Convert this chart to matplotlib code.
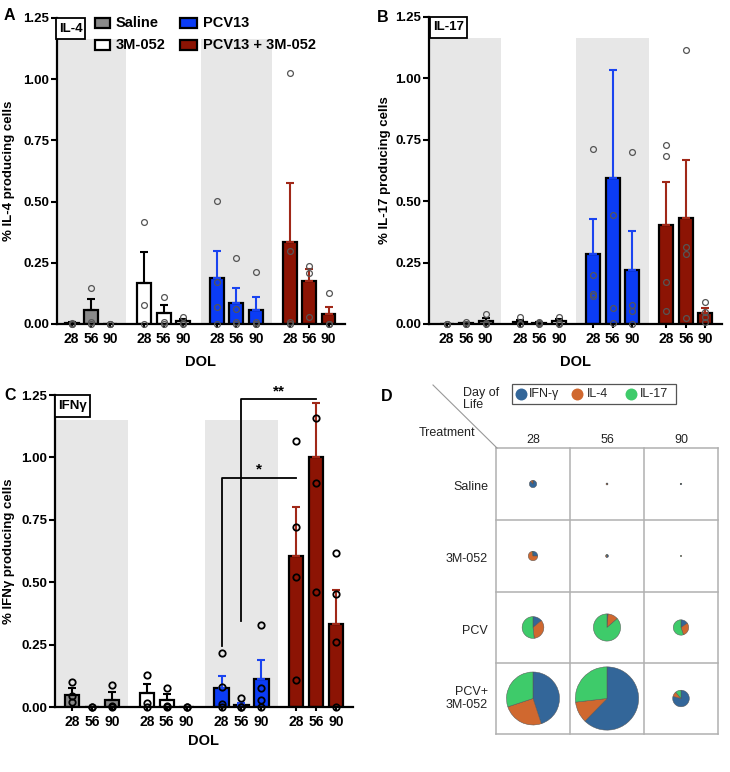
import matplotlib
matplotlib.use('Agg')
import matplotlib.pyplot as plt
from matplotlib.patches import Rectangle

plt.rcParams['font.family'] = ['Liberation Sans', 'DejaVu Sans']
plt.rcParams['font.weight'] = 'bold'
plt.rcParams['axes.labelweight'] = 'bold'

W, H = 730, 772

# ---------------- data ----------------
days = ['28', '56', '90']
groups = ['Saline', '3M-052', 'PCV13', 'PCV13 + 3M-052']
group_colors = ['#8a8a8a', '#ffffff', '#0b3cf5', '#8c1404']
err_colors = ['#000000', '#000000', '#1a44f0', '#a02818']

il4_mean = [[0.005, 0.057, 0.0], [0.168, 0.044, 0.011], [0.189, 0.085, 0.057], [0.336, 0.175, 0.042]]
il4_sem = [[0.003, 0.047, 0.0], [0.128, 0.032, 0.008], [0.111, 0.064, 0.052], [0.240, 0.049, 0.029]]
il4_pts = [[[0, 0, 0.005], [0.149, 0.01, 0], [0, 0, 0]],
           [[0.418, 0.078, 0], [0.109, 0.01, 0], [0.03, 0.005, 0]],
           [[0.503, 0.17, 0.068, 0], [0.268, 0.06, 0.01, 0], [0.214, 0.01, 0, 0]],
           [[1.025, 0.30, 0.01, 0], [0.238, 0.21, 0.03], [0.128, 0, 0]]]

il17_mean = [[0.0, 0.003, 0.013], [0.01, 0.005, 0.012], [0.286, 0.596, 0.22], [0.405, 0.431, 0.046]]
il17_sem = [[0.0, 0.003, 0.012], [0.007, 0.003, 0.009], [0.14, 0.437, 0.158], [0.175, 0.238, 0.02]]
il17_pts = [[[0, 0, 0], [0.01, 0, 0], [0.04, 0.005, 0]],
            [[0.03, 0, 0], [0.01, 0.005, 0], [0.03, 0.005, 0]],
            [[0.714, 0.201, 0.124, 0.114], [0.442, 0.064, 0.003], [0.702, 0.077, 0.053, 0.0]],
            [[0.727, 0.686, 0.172, 0.053], [1.115, 0.313, 0.284, 0.023], [0.09, 0.05, 0.027, 0.01]]]

ifn_mean = [[0.05, 0.0, 0.03], [0.058, 0.027, 0.0], [0.077, 0.009, 0.111], [0.605, 1.0, 0.333]]
ifn_sem = [[0.025, 0.0, 0.029], [0.035, 0.024, 0.0], [0.048, 0.008, 0.076], [0.198, 0.216, 0.134]]
ifn_pts = [[[0.102, 0.045, 0.02], [0, 0], [0.089, 0.004, 0]],
           [[0.129, 0.017, 0.0], [0.078, 0.004, 0], [0, 0]],
           [[0.215, 0.082, 0.012, 0], [0.038, 0, 0], [0.33, 0.078, 0.028, 0]],
           [[1.067, 0.72, 0.522, 0.109], [1.159, 0.899, 0.46], [0.616, 0.451, 0.259, 0]]]

# Panel D pie data: rows = treatment, cols = day of life; values (IFN-g, IL-4, IL-17)
pie_rows = ['Saline', '3M-052', 'PCV', 'PCV+\n3M-052']
pie_cols = ['28', '56', '90']
pie_ifn = [[0.165, 0.02, 0.03], [0.06, 0.04, 0.0], [0.077, 0.009, 0.06], [0.605, 1.0, 0.333]]
pie_il4 = [[0.02, 0.03, 0.005], [0.175, 0.03, 0.012], [0.189, 0.085, 0.115], [0.336, 0.175, 0.042]]
pie_il17 = [[0.0, 0.0, 0.005], [0.005, 0.005, 0.012], [0.286, 0.596, 0.215], [0.405, 0.431, 0.046]]
pie_labels = ['IFN-γ', 'IL-4', 'IL-17']
pie_colors = ['#336699', '#d0682f', '#3ecb6a']

# ---------------- figure ----------------
fig = plt.figure(figsize=(W / 100, H / 100), dpi=100)


def ax_px(l, t, r, b):
    return fig.add_axes([l / W, 1 - b / H, (r - l) / W, (b - t) / H])


group_step = 3.75
bar_w = 0.72


def draw_panel(ax, means, sems, pts, xlim, shade_top, ylabel, pt_edge, pt_lw, pt_ms, xlabel_y):
    xs, labels = [], []
    ax.set_xlim(*xlim)
    ax.set_ylim(0, 1.25)
    # background shading
    ax.axvspan(xlim[0], 1 + 1.8, ymin=0, ymax=shade_top / 1.25, color='#e7e7e7', lw=0, zorder=0)
    c3 = 2 * group_step + 1
    ax.axvspan(c3 - 1.85, c3 + 1.85, ymin=0, ymax=shade_top / 1.25, color='#e7e7e7', lw=0, zorder=0)
    for g in range(4):
        for d in range(3):
            x = g * group_step + d
            xs.append(x)
            labels.append(days[d])
            m = means[g][d]
            ax.bar(x, m, width=bar_w, color=group_colors[g], edgecolor='black', linewidth=1.6, zorder=2)
            if sems[g][d] > 0:
                ax.errorbar(x, m, yerr=[[0], [sems[g][d]]], fmt='none', ecolor=err_colors[g],
                            elinewidth=1.5, capsize=3, capthick=1.5, zorder=3)
            p = pts[g][d]
            ax.plot([x] * len(p), p, 'o', mfc='none', mec=pt_edge, mew=pt_lw, ms=pt_ms,
                    zorder=4, clip_on=False)
    ax.set_xticks(xs)
    ax.set_xticklabels(labels, fontsize=10)
    ax.set_yticks([0, 0.25, 0.5, 0.75, 1.0, 1.25])
    ax.set_yticklabels(['0.00', '0.25', '0.50', '0.75', '1.00', '1.25'], fontsize=9.5)
    ax.tick_params(axis='y', length=4, width=1.5, pad=1.5)
    ax.tick_params(axis='x', length=3, width=1.5, pad=3)
    for s in ['top', 'right']:
        ax.spines[s].set_visible(False)
    for s in ['left', 'bottom']:
        ax.spines[s].set_linewidth(1.6)
    ax.set_ylabel(ylabel, fontsize=9.5)
    ax.set_xlabel('DOL', fontsize=10.5)
    ax.xaxis.set_label_coords(0.5, xlabel_y)


def title_box(l, t, r, b, text):
    fig.patches.append(Rectangle((l / W, 1 - b / H), (r - l) / W, (b - t) / H,
                                 transform=fig.transFigure, fc='white', ec='black', lw=1.3, zorder=5))
    fig.text((l + r) / 2 / W, 1 - (t + b) / 2 / H, text, ha='center', va='center', fontsize=9.5, zorder=6)


# Panel A
axA = ax_px(57, 18, 345, 324)
draw_panel(axA, il4_mean, il4_sem, il4_pts, (-0.75, 14.1), 1.163, '% IL-4 producing cells',
           '#555555', 0.9, 4.2, -0.1)
axA.yaxis.set_label_coords(-(57 - 15) / 288, 0.5)
# Panel B
axB = ax_px(429, 17, 722, 324)
draw_panel(axB, il17_mean, il17_sem, il17_pts, (-0.9, 14.1), 1.165, '% IL-17 producing cells',
           '#555555', 0.9, 4.2, -0.1)
axB.yaxis.set_label_coords(-(429 - 391) / 293, 0.5)
# Panel C
axC = ax_px(55, 395, 353, 707)
draw_panel(axC, ifn_mean, ifn_sem, ifn_pts, (-0.86, 14.1), 1.15, '% IFNγ producing cells',
           '#000000', 1.3, 4.6, -0.085)
axC.yaxis.set_label_coords(-(55 - 15) / 298, 0.5)

# significance brackets in C
x_pcv28 = 2 * group_step + 0
x_pcv56 = 2 * group_step + 1
x_combo28 = 3 * group_step + 0
x_combo56 = 3 * group_step + 1
axC.plot([x_pcv28, x_pcv28, x_combo28], [0.244, 0.917, 0.917], color='black', lw=1.3, clip_on=False, zorder=5)
axC.plot([x_pcv56, x_pcv56, x_combo56], [0.344, 1.232, 1.232], color='black', lw=1.3, clip_on=False, zorder=5)
axC.text((x_pcv28 + x_combo28) / 2, 0.925, '*', ha='center', va='bottom', fontsize=11)
axC.text((x_pcv56 + x_combo56) / 2, 1.237, '**', ha='center', va='bottom', fontsize=11, clip_on=False)

# title boxes
title_box(56, 18, 85, 39, 'IL-4')
title_box(430, 17, 467, 38, 'IL-17')
title_box(55, 395, 90, 417, 'IFNγ')

# legend for A (manual)
leg_items = [(95, 110, 23, 0), (95, 110, 45, 1), (180, 197, 23, 2), (180, 197, 45, 3)]
for x0, x1, yc, g in leg_items:
    fig.patches.append(Rectangle((x0 / W, 1 - (yc + 4.5) / H), (x1 - x0) / W, 9 / H,
                                 transform=fig.transFigure, fc=group_colors[g], ec='black', lw=1.6, zorder=5))
    fig.text((x1 + 6) / W, 1 - yc / H, groups[g], ha='left', va='center', fontsize=10.5)

# panel letters
for txt, x, y in [('A', 4, 16), ('B', 377, 17), ('C', 4, 395), ('D', 381, 396)]:
    fig.text(x / W, 1 - y / H, txt, ha='left', va='center', fontsize=11.5)

# ---------------- Panel D ----------------
axD = fig.add_axes([365 / W, 0, 365 / W, 392 / H])


def Y(py):
    return 772 - py


col_lines = [496, 570, 644, 718]
row_lines = [448, 520, 592, 663, 734]
col_centers = [(col_lines[i] + col_lines[i + 1]) / 2 for i in range(3)]
row_centers = [(row_lines[i] + row_lines[i + 1]) / 2 for i in range(4)]
r_scale = 19.7

for i in range(4):
    for j in range(3):
        vals = [pie_ifn[i][j], pie_il4[i][j], pie_il17[i][j]]
        tot = sum(vals)
        axD.pie(vals, colors=pie_colors, startangle=90, counterclock=False,
                center=(col_centers[j], Y(row_centers[i])), radius=max(tot * r_scale, 0.6),
                wedgeprops=dict(edgecolor='#555555', linewidth=0.35), frame=True)

grid_c = '#b0b0b0'
for x in col_lines:
    axD.plot([x, x], [Y(row_lines[0]), Y(row_lines[-1])], color=grid_c, lw=1.1)
for y in row_lines:
    axD.plot([col_lines[0], col_lines[-1]], [Y(y), Y(y)], color=grid_c, lw=1.1)
axD.plot([433, 497], [Y(385), Y(448)], color='#999999', lw=0.8)

reg = dict(fontweight='normal', fontsize=9, color='#222222')
axD.text(463, Y(399), 'Day of\nLife', ha='left', va='center', linespacing=1.05, **reg)
axD.text(475, Y(433), 'Treatment', ha='right', va='center', **reg)
for j, lab in enumerate(pie_cols):
    axD.text(col_centers[j], Y(440), lab, ha='center', va='center', **reg)
for i, lab in enumerate(pie_rows):
    axD.text(488, Y(row_centers[i] + (3 if i < 3 else 0)), lab, ha='right', va='center',
             multialignment='right', linespacing=1.1, **reg)

# legend for D
axD.add_patch(Rectangle((512, Y(404)), 164, 20, fc='white', ec='#555555', lw=0.9))
for cx, tx, lab, c in [(521, 529, pie_labels[0], pie_colors[0]),
                        (577, 587, pie_labels[1], pie_colors[1]),
                        (631, 640, pie_labels[2], pie_colors[2])]:
    axD.plot([cx], [Y(394)], 'o', ms=8.6, color=c, mec='none')
    axD.text(tx, Y(394), lab, ha='left', va='center', **reg)

axD.set_xlim(365, 730)
axD.set_ylim(0, 392)
axD.set_aspect('equal')
axD.set_axis_off()

fig.savefig('out.png', dpi=100)
